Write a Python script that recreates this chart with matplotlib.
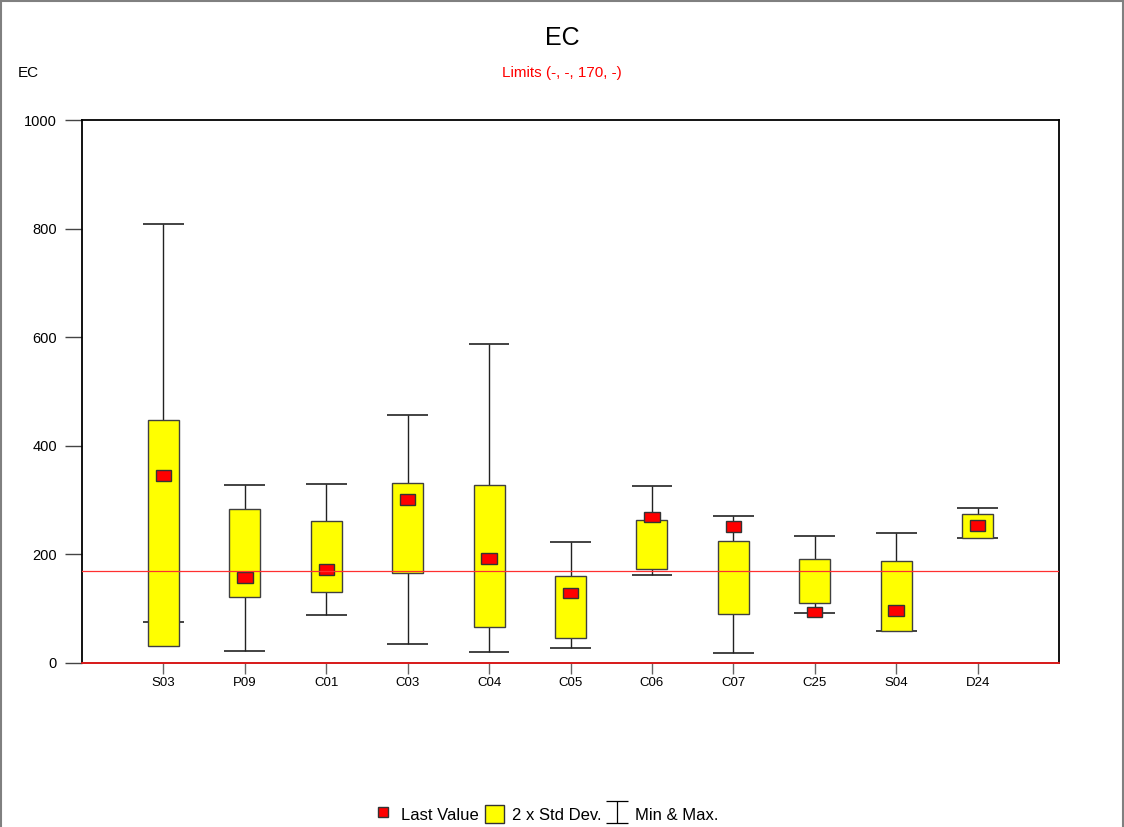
import matplotlib.pyplot as plt
from matplotlib.lines import Line2D
from matplotlib.patches import Patch, Rectangle
from matplotlib.path import Path

plt.rcParams['font.family'] = ['Liberation Sans', 'DejaVu Sans']

sites = ["S03", "P09", "C01", "C03", "C04", "C05", "C06", "C07", "C25", "S04", "D24"]
v_min = [75, 22, 88, 35, 20, 28, 162, 18, 93, 59, 231]
v_max = [808, 328, 330, 457, 587, 222, 326, 270, 233, 240, 285]
sd_low = [31, 121, 131, 165, 66, 46, 174, 90, 110, 59, 231]
sd_high = [447, 284, 261, 332, 328, 161, 263, 225, 191, 188, 275]
last_val = [345, 158, 172, 301, 193, 129, 269, 252, 94, 96, 253]
limit = 170

x = list(range(1, len(sites) + 1))

fig = plt.figure(figsize=(11.24, 8.27), dpi=100)
ax = fig.add_axes([82 / 1124, 1 - 663 / 827, 977 / 1124, 543 / 827])

# min & max whiskers (behind the boxes)
ax.vlines(x, v_min, v_max, color='#222222', lw=1, zorder=1)
ax.hlines(v_max, [i - 0.25 for i in x], [i + 0.25 for i in x], color='#222222', lw=1.2, zorder=1)
ax.hlines(v_min, [i - 0.25 for i in x], [i + 0.25 for i in x], color='#222222', lw=1.2, zorder=1)

# 2 x std dev boxes
ax.bar(x, [h - l for h, l in zip(sd_high, sd_low)], bottom=sd_low, width=0.38,
       color='yellow', edgecolor='#404040', lw=1, zorder=2)

# last value markers
ax.bar(x, 20, bottom=[v - 10 for v in last_val], width=0.19,
       color='red', edgecolor='#333333', lw=1, zorder=3)

ax.axhline(limit, color='#ff3030', lw=0.9, zorder=4)
ax.axhline(0, color='#ff2020', lw=1.2, zorder=5, clip_on=False)

ax.set_xlim(0, 12)
ax.set_ylim(0, 1000)
ax.set_xticks(x)
ax.set_xticklabels(sites, fontsize=9.5)
ax.set_yticks([0, 200, 400, 600, 800, 1000])
ax.tick_params(axis='y', length=12, width=1, color='#444444', labelsize=10.5, pad=6)
ax.tick_params(axis='x', length=8, width=1, color='#666666', pad=2)
for sp in ax.spines.values():
    sp.set_linewidth(1.3)

fig.text(0.5, 1 - 38 / 827, "EC", ha='center', va='center', fontsize=18)
fig.text(0.5, 1 - 73 / 827, "Limits (-, -, 170, -)", ha='center', va='center',
         fontsize=11, color='red')
fig.text(18 / 1124, 1 - 73 / 827, "EC", ha='left', va='center', fontsize=11)

# figure frame
fig.patches.append(Rectangle((1 / 1124, -0.05), 1121.5 / 1124, 1.05 - 1.5 / 827,
                             transform=fig.transFigure, fill=False,
                             edgecolor='#808080', lw=1.5))

ibeam = Path([(-0.5, -0.5), (0.5, -0.5), (0, -0.5), (0, 0.5), (-0.5, 0.5), (0.5, 0.5)],
             [Path.MOVETO, Path.LINETO, Path.MOVETO, Path.LINETO, Path.MOVETO, Path.LINETO])
handles = [
    Line2D([], [], ls='none', marker='s', markersize=7, markerfacecolor='red',
           markeredgecolor='#333333'),
    Patch(facecolor='yellow', edgecolor='#333333'),
    Line2D([], [], ls='none', marker=ibeam, markersize=16, color='black',
           markeredgewidth=0.9),
]
fig.legend(handles, ["Last Value", "2 x Std Dev.", "Min & Max."], loc='center',
           bbox_to_anchor=(0.486, 13 / 827), ncol=3, frameon=False, fontsize=12,
           handlelength=1.1, handleheight=1.3, handletextpad=0.5, columnspacing=0.4)

plt.savefig('out.png', dpi=100)
